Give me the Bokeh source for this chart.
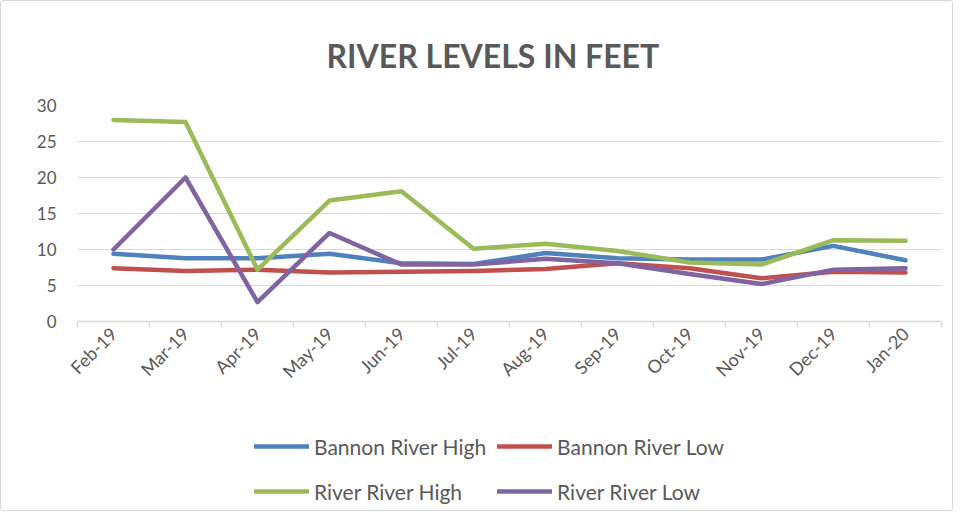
import math
from bokeh.plotting import figure
from bokeh.layouts import column
from bokeh.models import FixedTicker, Legend, LegendItem, Range1d
from bokeh.embed import file_html
from bokeh.resources import INLINE

months = ["Feb-19", "Mar-19", "Apr-19", "May-19", "Jun-19", "Jul-19",
          "Aug-19", "Sep-19", "Oct-19", "Nov-19", "Dec-19", "Jan-20"]
bannon_high = [9.4, 8.8, 8.8, 9.4, 8.1, 8.0, 9.5, 8.8, 8.6, 8.6, 10.5, 8.5]
bannon_low = [7.4, 7.0, 7.2, 6.8, 6.9, 7.0, 7.3, 8.1, 7.4, 6.0, 6.9, 6.8]
river_high = [28.0, 27.7, 7.2, 16.8, 18.1, 10.1, 10.8, 9.8, 8.2, 7.9, 11.3, 11.2]
river_low = [10.0, 20.0, 2.7, 12.3, 7.9, 7.9, 8.7, 8.1, 6.6, 5.2, 7.2, 7.4]
y_ticks = [0, 5, 10, 15, 20, 25, 30]

series = [
    ("Bannon River High", bannon_high, "#4F81BD"),
    ("Bannon River Low", bannon_low, "#C0504D"),
    ("River River High", river_high, "#9BBB59"),
    ("River River Low", river_low, "#8064A2"),
]

FONT = "Lato"
GREY = "#595959"
LINE = "#D9D9D9"

xs = [i + 0.5 for i in range(len(months))]

p = figure(width=951, height=400, output_backend="svg", toolbar_location=None,
           x_range=Range1d(0, len(months)), y_range=Range1d(0, 30),
           min_border_left=76, min_border_right=11, min_border_top=104,
           min_border_bottom=80)

p.title.text = "RIVER LEVELS IN FEET"
p.title.align = "left"
p.title.text_font = FONT
p.title.text_font_size = "32px"
p.title.text_font_style = "bold"
p.title.text_color = GREY
p.title.offset = 249
p.title.standoff = 62

p.outline_line_color = None
p.xgrid.grid_line_color = None
p.ygrid.grid_line_color = LINE
p.ygrid.grid_line_width = 1.2
p.ygrid.ticker = FixedTicker(ticks=y_ticks)

p.yaxis.ticker = FixedTicker(ticks=y_ticks)
p.yaxis.axis_line_color = None
p.yaxis.major_tick_line_color = None
p.yaxis.minor_tick_line_color = None
p.yaxis.major_label_text_font = FONT
p.yaxis.major_label_text_font_size = "17px"
p.yaxis.major_label_text_color = GREY
p.yaxis.major_label_standoff = 15

p.xaxis.ticker = FixedTicker(ticks=xs, minor_ticks=list(range(len(months) + 1)))
p.xaxis.major_label_overrides = {x: m for x, m in zip(xs, months)}
p.xaxis.major_label_orientation = math.pi / 4
p.xaxis.major_label_text_font = FONT
p.xaxis.major_label_text_font_size = "18px"
p.xaxis.major_label_text_color = GREY
p.xaxis.major_label_standoff = 3
p.xaxis.axis_line_color = LINE
p.xaxis.axis_line_width = 1.5
p.xaxis.major_tick_line_color = None
p.xaxis.minor_tick_line_color = LINE
p.xaxis.minor_tick_line_width = 1.5
p.xaxis.minor_tick_in = 0
p.xaxis.minor_tick_out = 6

for name, vals, color in series:
    p.line(xs, vals, line_color=color, line_width=4.5,
           line_join="round", line_cap="round")

# legend panel below the chart (its lines fall outside its own view range,
# so only the legend samples are visible)
lg = figure(width=951, height=109, output_backend="svg", toolbar_location=None,
            x_range=Range1d(0, len(months)), y_range=Range1d(100, 101),
            x_axis_location=None, y_axis_location=None, min_border=0)
lg.grid.visible = False
lg.outline_line_color = None
items = []
for name, vals, color in series:
    r = lg.line(xs, vals, line_color=color, line_width=4.5, line_cap="round")
    items.append(LegendItem(label=name, renderers=[r]))

legend = Legend(items=items, ncols=2, orientation="horizontal",
                location=(177, 2),
                label_text_font=FONT, label_text_font_size="21px",
                label_text_color=GREY, glyph_width=55, glyph_height=20,
                label_height=34, label_standoff=5, spacing=11,
                padding=0, margin=0, border_line_color=None,
                background_fill_alpha=0)
lg.add_layout(legend, "center")

layout = column(p, lg, spacing=0)
layout.styles = {"border": "1px solid #D9D9D9", "border-radius": "3px"}

open("out.html", "w").write(file_html(layout, INLINE))
